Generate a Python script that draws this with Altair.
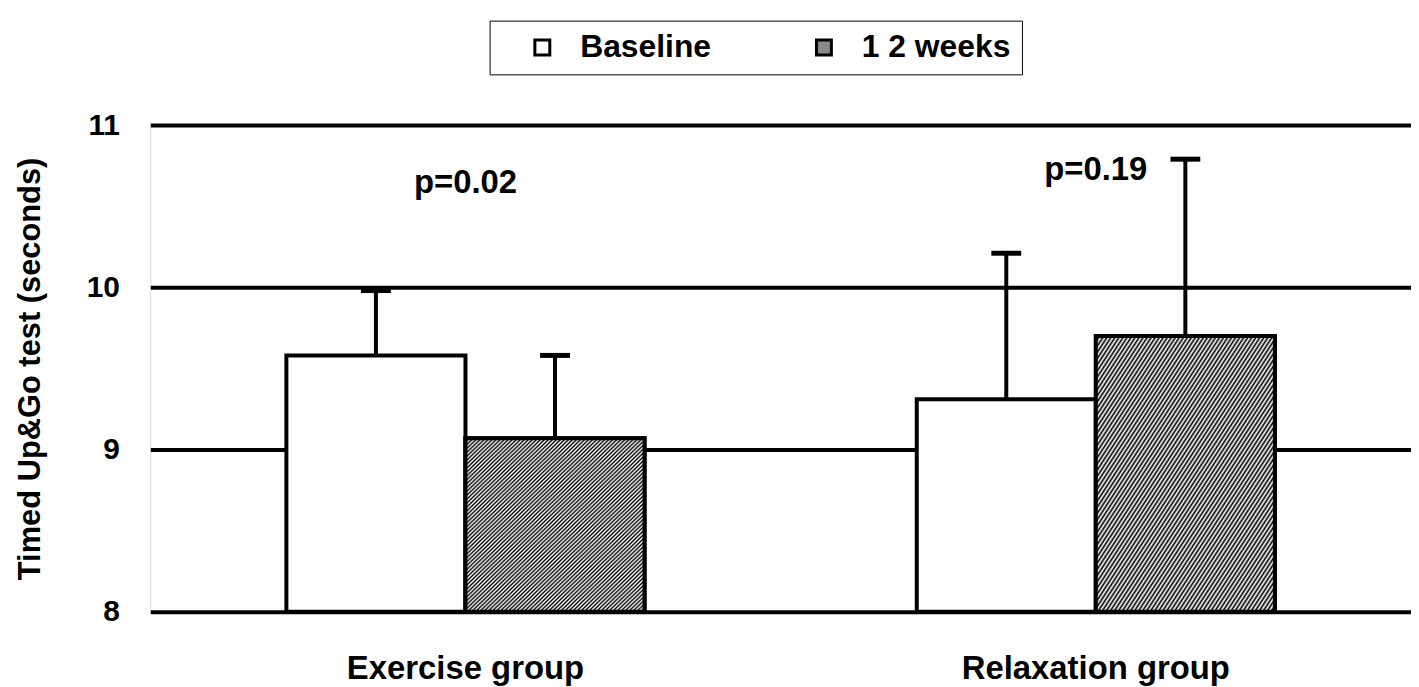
import altair as alt
import pandas as pd

groups = ["Exercise group", "Exercise group", "Relaxation group", "Relaxation group"]
periods = ["Baseline", "1 2 weeks", "Baseline", "1 2 weeks"]
means = [9.58, 9.07, 9.31, 9.70]
uppers = [9.98, 9.58, 10.21, 10.79]

p_groups = ["Exercise group", "Relaxation group"]
p_labels = ["p=0.02", "p=0.19"]
p_y = [10.64, 10.72]

y_ticks = [8, 9, 10, 11]
period_order = ["Baseline", "1 2 weeks"]

df = pd.DataFrame({"group": groups, "period": periods, "mean": means, "upper": uppers})
pdf = pd.DataFrame({"group": p_groups, "label": p_labels, "y": p_y})

FONT = "Liberation Sans"

# hatch pattern approximated by a striped linear gradient (triangle wave)
n = 89
stops = []
for i in range(n):
    stops += [
        {"offset": i / n, "color": "#000000"},
        {"offset": (i + 0.5) / n, "color": "#ffffff"},
    ]
stops.append({"offset": 1, "color": "#000000"})
hatch = {"gradient": "linear", "x1": 0, "y1": 0, "x2": 1, "y2": 1, "stops": stops}

x_enc = alt.X("group:N", sort=p_groups, title=None,
              scale=alt.Scale(paddingInner=0, paddingOuter=0),
              axis=alt.Axis(labelAngle=0, labelFont=FONT, labelFontWeight="bold",
                            labelFontSize=33, labelColor="black", labelPadding=41,
                            labelLimit=0, ticks=False, domain=False, grid=False))
xoff = alt.XOffset("period:N", sort=period_order,
                   scale=alt.Scale(paddingOuter=0.76, paddingInner=0))
y_scale = alt.Scale(domain=[8, 11], zero=False, nice=False)
y_enc = alt.Y("mean:Q", scale=y_scale, title="Timed Up&Go test (seconds)",
              axis=alt.Axis(values=y_ticks, format="d", labelFont=FONT,
                            labelFontWeight="bold", labelFontSize=30, labelColor="black",
                            labelPadding=31, ticks=False, domain=False,
                            grid=True, gridColor="black", gridWidth=4, gridOpacity=1,
                            titleFont=FONT, titleFontWeight="bold", titleFontSize=31,
                            titleColor="black", titlePadding=40))

base = alt.Chart(df)

bars = base.mark_bar(stroke="black", strokeWidth=4, strokeJoin="miter").encode(
    x=x_enc, xOffset=xoff, y=y_enc, y2=alt.datum(8),
    fill=alt.Fill("period:N", sort=period_order,
                  scale=alt.Scale(domain=period_order, range=["#ffffff", "#8a8a8a"]),
                  legend=alt.Legend(title=None, orient="none", direction="horizontal",
                                    legendX=341, legendY=-105,
                                    labelFont=FONT, labelFontWeight="bold",
                                    labelFontSize=32, labelColor="black",
                                    symbolType="square", symbolSize=225,
                                    symbolStrokeColor="black", symbolStrokeWidth=3,
                                    symbolOffset=26,
                                    columnPadding=71, labelOffset=22,
                                    padding=11, strokeColor="black",
                                    fillColor="white")),
)

hatched = base.transform_filter(alt.datum.period == "1 2 weeks").mark_bar(
    stroke="black", strokeWidth=4, fill=hatch).encode(
    x=alt.X("group:N", sort=p_groups), xOffset=xoff,
    y=alt.Y("mean:Q", scale=y_scale), y2=alt.datum(8),
)

err = base.mark_rule(color="black", strokeWidth=4).encode(
    x=alt.X("group:N", sort=p_groups), xOffset=xoff,
    y=alt.Y("mean:Q", scale=y_scale), y2="upper:Q",
)

caps = base.mark_tick(color="black", opacity=1, thickness=5, size=30,
                      orient="horizontal").encode(
    x=alt.X("group:N", sort=p_groups), xOffset=xoff,
    y=alt.Y("upper:Q", scale=y_scale),
)

ptext = alt.Chart(pdf).mark_text(font=FONT, fontWeight="bold", fontSize=33,
                                 color="black", baseline="middle").encode(
    x=alt.X("group:N", sort=p_groups),
    y=alt.Y("y:Q", scale=y_scale),
    text="label:N",
)

chart = alt.layer(bars, hatched, err, caps, ptext).properties(
    width=1267, height=489,
    padding={"left": 6, "top": 10, "right": 0, "bottom": 0},
).configure_view(
    stroke="black", strokeWidth=4
).configure_legend(
    strokeWidth=3
).configure(background="white")

chart.save("out.html", embed_options={"renderer": "svg", "actions": False})
